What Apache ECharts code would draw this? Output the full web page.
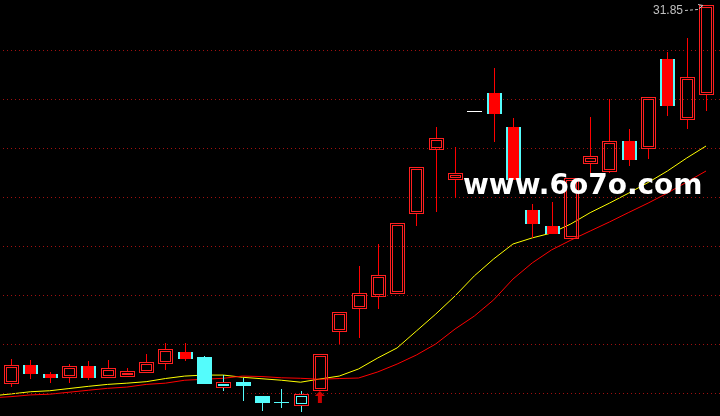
<!DOCTYPE html>
<html>
<head>
<meta charset="utf-8">
<script src="https://cdn.jsdelivr.net/npm/echarts@6/dist/echarts.min.js"></script>
<style>
html,body{margin:0;padding:0;background:#000;}
#chart{width:720px;height:416px;}
</style>
</head>
<body>
<div id="chart"></div>
<script>
// ---- data ----
const days = ['d0','d1','d2','d3','d4','d5','d6','d7','d8','d9','d10','d11','d12','d13','d14','d15','d16','d17','d18','d19','d20','d21','d22','d23','d24','d25','d26','d27','d28','d29','d30','d31','d32','d33','d34','d35','d36','d37'];
const opens  = [null,16.40,17.14,16.79,16.67,17.10,16.67,16.71,16.87,17.24,17.67,17.48,16.26,16.45,15.88,15.63,15.51,16.12,18.54,19.46,19.97,20.07,23.36,25.97,24.75,27.51,28.24,26.86,23.47,22.82,22.34,25.38,25.07,26.27,25.99,29.62,27.17,28.19];
const closes = [null,17.14,16.80,16.67,17.10,16.64,17.01,16.89,17.25,17.78,17.42,16.40,16.44,16.33,15.64,15.63,15.96,17.59,19.32,20.07,20.80,22.93,25.21,26.40,24.97,27.51,27.44,24.72,22.95,22.52,24.76,25.67,26.27,25.54,28.09,27.74,28.91,31.85];
const lows   = [null,16.26,16.58,16.42,16.42,16.53,16.64,16.67,16.80,16.95,17.31,16.37,16.09,15.69,15.28,15.39,15.24,16.12,18.00,18.26,19.44,20.07,22.82,23.40,23.95,27.51,26.26,24.72,22.34,22.48,22.29,24.97,24.97,25.28,25.54,27.32,26.76,27.52];
const highs  = [null,17.39,17.35,16.84,17.18,17.31,17.35,17.02,17.59,18.03,18.03,17.51,16.73,16.62,15.88,16.16,16.08,17.59,19.32,21.18,22.08,22.93,25.21,26.87,26.03,27.51,29.25,27.21,23.71,23.78,24.76,27.28,28.00,26.78,28.09,29.93,30.50,31.85];
const maShort = [15.88,15.96,16.05,16.09,16.18,16.27,16.35,16.40,16.46,16.59,16.69,16.73,16.73,16.64,16.58,16.52,16.44,16.57,16.69,16.98,17.43,17.84,18.53,19.22,19.96,20.78,21.47,22.08,22.33,22.53,22.90,23.36,23.75,24.16,24.59,25.06,25.59,26.08];
const maLong  = [15.80,15.85,15.92,15.95,16.03,16.11,16.19,16.24,16.35,16.40,16.52,16.56,16.60,16.69,16.67,16.62,16.60,16.56,16.59,16.61,16.86,17.18,17.55,18.00,18.61,19.14,19.80,20.65,21.31,21.84,22.24,22.61,22.98,23.37,23.75,24.16,24.61,25.06];
const levels = [16,18,20,22,24,26,28,30];
const signals = [17];
const watermark = 'www.6o7o.com';

// ---- build ----
const Y_MIN = 15.06, Y_MAX = 32.04;
const X_MIN = 0.4302, X_MAX = 37.724;
const RED = '#ff0000', FRAME = '#ff2020', CYAN = '#54fcfc', WHITE = '#ffffff', GRAY = '#c0c0c0';
const maxHigh = Math.max.apply(null, highs.filter(v => v != null));

const candleData = [], shortLine = [], longLine = [];
days.forEach((d, i) => {
  shortLine.push([i, maShort[i]]);
  longLine.push([i, maLong[i]]);
  if (opens[i] != null) candleData.push([i, opens[i], closes[i], lows[i], highs[i], maLong[i]]);
});

function renderItem(params, api) {
  const i = api.value(0), o = api.value(1), c = api.value(2), l = api.value(3), h = api.value(4), m = api.value(5);
  const pO = api.coord([i, o]), pC = api.coord([i, c]), pL = api.coord([i, l]), pH = api.coord([i, h]);
  const cx = Math.round(pO[0]);
  const left = cx - 7, W = 15;
  const yT = Math.round(Math.min(pO[1], pC[1])), yB = Math.round(Math.max(pO[1], pC[1]));
  const yH = Math.round(pH[1]), yL = Math.round(pL[1]);
  const below = c < m;
  const ch = [];
  const seg = (x1, y1, x2, y2, col) => ch.push({type:'line', shape:{x1:x1,y1:y1,x2:x2,y2:y2}, style:{stroke:col,lineWidth:1}});
  const vline = (x, y1, y2, col) => { if (y2 > y1) seg(x+0.5, y1, x+0.5, y2, col); };
  const hline = (x1, x2, y, col) => seg(x1, y+0.5, x2, y+0.5, col);
  const frame = (x, y, w, hh, col) => {
    hline(x, x + w, y, col);
    hline(x, x + w, y + hh - 1, col);
    seg(x + 0.5, y, x + 0.5, y + hh, col);
    seg(x + w - 0.5, y, x + w - 0.5, y + hh, col);
  };
  const box = (x, y, w, hh, col) => ch.push({type:'rect', shape:{x:x,y:y,width:w,height:hh}, style:{fill:col, stroke:null}});
  if (h === l) {
    hline(left, left + W, yT, WHITE);
  } else if (o === c) {
    const col = below ? CYAN : RED;
    vline(cx, yH, yL, col);
    hline(left, left + W, yT, col);
  } else if (c > o) {
    const wick = below ? CYAN : RED;
    vline(cx, yH, yT, wick);
    vline(cx, yB, yL, wick);
    frame(left, yT, W, yB - yT + 1, FRAME);
    if (yB - yT >= 5) frame(left + 2, yT + 2, W - 4, yB - yT - 3, below ? CYAN : FRAME);
  } else {
    const wick = below ? CYAN : RED;
    vline(cx, yH, yL, wick);
    box(left, yT, W, yB - yT + 1, CYAN);
    if (!below) box(left + 2, yT, W - 4, yB - yT + 1, RED);
  }
  if (h === maxHigh) {
    ch.push({type:'text', x: cx - 23, y: yH + 6, style:{text: h.toFixed(2), fill: GRAY, font: '12px "Liberation Sans", Arial, sans-serif', align:'right', verticalAlign:'middle'}});
    ch.push({type:'polyline', shape:{points:[[cx-21, yH+5.5],[cx-8, yH+4.5],[cx-3, yH+0.5]]}, style:{stroke: GRAY, lineWidth:1, fill:null, lineDash:[3,2]}});
    ch.push({type:'polyline', shape:{points:[[cx-8, yH-0.5],[cx-3, yH+0.5],[cx-7, yH+3.5]]}, style:{stroke: GRAY, lineWidth:1, fill:null}});
  }
  return {type:'group', children: ch};
}

const chart = echarts.init(document.getElementById('chart'), null, {renderer:'canvas'});
chart.setOption({
  backgroundColor: '#000',
  animation: false,
  grid: [
    {left: 0, right: 0, top: 0, bottom: 0},
    {left: 3, right: 0, top: 0, bottom: 0}
  ],
  xAxis: [
    {type:'value', gridIndex:0, show:false, min:X_MIN, max:X_MAX, splitLine:{show:false}},
    {type:'value', gridIndex:1, show:false, min:0, max:1, splitLine:{show:false}}
  ],
  yAxis: [
    {type:'value', gridIndex:0, show:false, min:Y_MIN, max:Y_MAX, splitLine:{show:false}},
    {type:'value', gridIndex:1, show:false, min:Y_MIN + 0.5/24.5, max:Y_MAX + 0.5/24.5, splitLine:{show:false}}
  ],
  graphic: [
    {type:'text', left: 463, top: 173, z: 100, style:{text: watermark, fill:'#ffffff', font:'bold 28px "DejaVu Sans", sans-serif'}}
  ],
  series: [
    {
      type:'line', xAxisIndex:1, yAxisIndex:1, data:[], silent:true, z:1,
      markLine:{silent:true, symbol:['none','none'], label:{show:false}, animation:false,
        lineStyle:{color:'#a01010', type:[1,3], width:1},
        data: levels.map(v => ({yAxis: v}))}
    },
    {type:'line', data: shortLine, symbol:'none', silent:true, z:2, lineStyle:{color:'#ffff00', width:1}},
    {type:'line', data: longLine, symbol:'none', silent:true, z:2, lineStyle:{color:'#ff0000', width:1}},
    {type:'custom', renderItem: renderItem, data: candleData, z:5, silent:true, clip:false,
      encode:{x:0, y:[1,2,3,4]}},
    {type:'scatter', data: signals.map(i => [i, lows[i]]), z:6, silent:true,
      symbol:'path://M5,0L10,5L7,5L7,12L3,12L3,5L0,5Z', symbolSize:[10,12], symbolOffset:[0,7],
      itemStyle:{color:RED}}
  ]
});
</script>
</body>
</html>
